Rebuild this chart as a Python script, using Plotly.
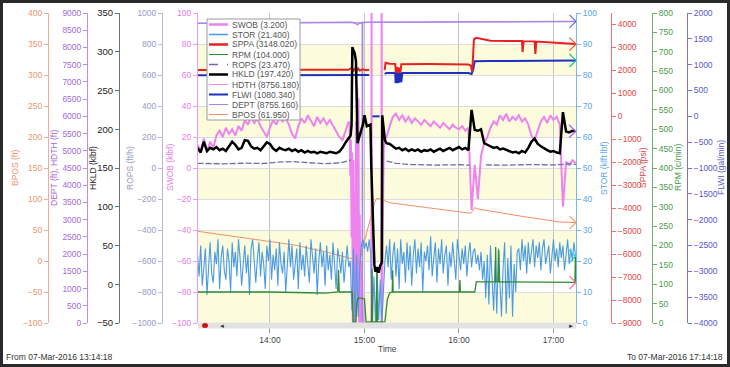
import plotly.graph_objects as go
import pandas as pd

W, H = 730, 367
BASE = pd.Timestamp("2016-03-07 13:00:00")
T_START = pd.Timestamp("2016-03-07 13:14:18")
T_END = pd.Timestamp("2016-03-07 17:14:18")
STEP = 2       # sample interval (minutes) of SWOB / HKLD logs
STOR_STEP = 1  # sample interval (minutes) of the torque log

# ---------------- data (times in minutes after 13:00) ----------------
swob_seg1_start = 14
swob_seg1 = [15, 11, 19, 10, 17, 13, 21, 24, 20, 26,
             22, 25, 21, 27, 24, 31, 28, 33, 29, 32,
             27, 23, 20, 26, 31, 28, 33, 30, 32, 28,
             22, 19, 27, 32, 29, 34, 30, 27, 33, 29,
             32, 28, 31, 27, 24, 20, 18, 24, 30]
swob_conn_t = [110.6, 111, 111.4, 111.8, 112.2, 112.6, 113, 113.4, 113.8, 114.2,
               114.6, 115, 115.4, 115.8, 116.2, 116.6, 117, 117.6, 118.2, 119,
               124.4, 124.5, 124.6, 130.8, 130.9, 131.1, 131.6, 132.2, 132.8]
swob_conn_v = [28, -5, 18, -45, 10, -100, 5, -100, -15, -100,
               30, -90, 52, -70, 45, -100, -30, -100, -60, -100,
               -100, 100, -100, -100, 100, -100, -40, 12, 18]
swob_seg3_start = 134
swob_seg3 = [20, 27, 33, 35, 31, 34, 30, 33, 29, 32,
             30, 28, 31, 29, 27, 30, 28, 26, 29, 27,
             25, 28, 26, 25, 27, 24, 26, -27, 2, -20,
             8, 16, 20, 26, 30, 28, 34, 31, 35, 30,
             33, 31, 34, 30, 32, 28, 21, 18, 24, 30,
             33, 29, 34, 31, 33, 28, -25, 4, 2, 5,
             3.2]

hkld_seg1_start = 14
hkld_seg1 = [176, 170, 184, 172, 176, 174, 177, 173, 175, 172,
             178, 184, 180, 174, 176, 186, 185, 178, 175, 176,
             173, 178, 183, 181, 175, 172, 176, 174, 173, 175,
             172, 174, 171, 173, 170, 172, 170, 171, 169, 171,
             170, 169, 171, 170, 169, 171, 176, 183, 188]
hkld_conn_t = [111.2, 111.8, 112.3, 113, 113.8, 114.6, 115.1, 115.6, 117, 119,
               120, 121.5, 123.8, 124.3, 126.3, 127, 128, 129, 130, 131,
               131.3, 132, 133]
hkld_conn_v = [192, 205, 306, 302, 298, 288, 215, 182, 192, 206,
               218, 204, 206, 154, 25, 16, 22, 15, 24, 28,
               218, 200, 186]
hkld_seg3_start = 134
hkld_seg3 = [182, 181, 178, 175, 176, 173, 175, 172, 174, 172,
             174, 171, 173, 172, 174, 171, 173, 175, 172, 174,
             176, 173, 175, 177, 174, 176, 173, 225, 199, 198,
             200, 182, 180, 178, 176, 177, 174, 175, 173, 172,
             170, 171, 169, 172, 170, 176, 184, 188, 181, 178,
             175, 173, 171, 172, 170, 169, 222, 197, 196, 198,
             197.42]

stor_start = 14
stor_vals = [22, 15, 25, 12, 18, 24, 9, 20, 26, 16,
             13, 23, 19, 27, 11, 21, 25, 17, 14, 24,
             20, 10, 26, 18, 23, 15, 27, 21, 12, 19,
             25, 16, 22, 9, 24, 27, 18, 13, 21, 26,
             15, 23, 19, 11, 25, 20, 27, 14, 22, 17,
             24, 12, 26, 19, 16, 23, 10, 21, 27, 18,
             25, 14, 20, 24, 11, 26, 17, 22, 15, 25,
             19, 13, 27, 21, 16, 24, 9, 20, 26, 18,
             23, 12, 25, 17, 22, 14, 26, 19, 11, 24,
             21, 16, 23, 13, 20, 25, 18,
             20, 4, 24, 0, 22, 2, 18, 25, 27, 24,
             26, 23, 27, 22, 0, 15, 0, 18, 1, 14,
             0, 10, 20,
             25, 18, 27, 14, 22, 26, 15, 24, 11, 27,
             19, 23, 13, 26, 17, 25, 12, 22, 27, 16,
             24, 18, 26, 10, 23, 20, 25, 17, 28, 15,
             21, 26, 13, 24, 19, 27, 16, 22, 25, 12,
             23, 18, 26, 20, 14, 27, 21, 17, 24, 19,
             25, 15, 22, 26, 18, 23,
             24, 19, 22, 17, 23, 14, 20, 8,
             22, 6, 25, 12, 4, 20, 3, 24, 15, 2,
             18, 26, 3, 21, 8, 25, 2, 19, 10, 23,
             24, 17, 27, 20, 25, 16, 26, 19, 23, 27,
             18, 25, 21, 26, 17, 24, 27, 19, 22, 25,
             16, 23, 27, 20, 24, 18, 26, 21, 25, 17,
             23, 27, 19, 24, 20, 26, 21.4]

rpm_t = [14, 60, 85, 95, 100, 102, 103, 103.5, 104, 108,
         112.3, 112.8, 114.6, 115.2, 116, 118, 120, 121, 124.5, 124.8,
         125.1, 127.6, 127.9, 128.2, 133, 134.5, 136, 137.6, 137.9, 138.2,
         160, 180.3, 180.6, 180.9, 190, 191, 203, 203.3, 203.6, 205,
         205.3, 205.6, 253.6, 253.9, 254.3]
rpm_v = [80, 80, 78, 77, 79, 80, 80, 137, 80, 80,
         80, 3, 3, 55, 64, 64, 62, 3, 3, 140,
         3, 3, 142, 3, 3, 60, 78, 80, 136, 80,
         80, 80, 111, 80, 80, 106, 106, 196, 106, 106,
         188, 106, 105, 170, 104]

flwi_t = [14, 60, 100, 112, 118, 123, 123.1, 125, 129.6, 129.7,
          132.8, 134, 139.5, 139.8, 140.4, 141, 141.6, 142.2, 142.8, 143.4,
          144, 186, 188, 189, 190, 200, 254.3]
flwi_v = [795, 800, 802, 800, 805, 800, None, 0, 0, None,
          820, 839, 840, 640, 850, 640, 840, 650, 845, 660,
          839, 839, 820, 900, 1065, 1071, 1080.34]

sppa_t = [14, 60, 100, 110, 112, 113, 114, 115, 116, 117,
          119, 121, 123, 123.1, 132.8, 133.4, 136, 139.5, 140, 140.7,
          141.4, 142.1, 142.8, 143.4, 160, 186, 187.6, 188.4, 189.5, 191,
          200, 220, 220.4, 221, 228, 228.5, 229.1, 240, 254.3]
sppa_v = [2020, 2015, 2025, 2030, 2120, 1960, 2100, 1980, 2080, 1990,
          2050, 2010, 2030, None, 2010, 2330, 2290, 2285, 1890, 2150,
          1890, 2120, 1900, 2270, 2275, 2260, 2200, 1930, 3350, 3420,
          3290, 3280, 2800, 3275, 3265, 2715, 3255, 3220, 3148.02]

rops_t = [14, 30, 45, 55, 65, 75, 85, 95, 105, 109,
          111.5, 111.6, 134, 140, 150, 165, 180, 187, 187.1, 197,
          210, 225, 240, 250, 254.3]
rops_v = [30, 27, 31, 29, 38, 41, 34, 28, 33, 45,
          52, None, 45, 30, 22, 19, 21, 18, None, 20,
          18, 22, 20, 26, 23.47]

dept_t = [14, 60, 112, 114, 115.5, 117, 118.6, 118.7, 118.8, 121, 180, 254.3]
dept_v = [8700, 8713, 8728, 8705, 8665, 8705, 8726, 0, 8726, 8729, 8742, 8755.16]

hdth_t = [14, 60, 112, 180, 254.3]
hdth_v = [8701, 8714, 8729, 8743, 8756.18]

bpos_t = [14, 45, 75, 95, 105, 110, 113, 115.5, 117, 119,
          121.5, 124, 126.5, 127.7, 130, 133, 136, 160, 187.5, 188.5,
          190, 192, 220, 244, 254.3]
bpos_v = [48, 37, 26, 15, 9, 6, 3, -2, 0, 22,
          48, 72, 95, 101, 100, 97, 94, 86, 77, 80,
          86, 84, 72, 63, 61.95]


def grid(start, vals, step=STEP):
    return [start + step * i for i in range(len(vals))]


def to_time(mins):
    return [BASE + pd.Timedelta(minutes=m) for m in mins]


swob_t = grid(swob_seg1_start, swob_seg1) + swob_conn_t + grid(swob_seg3_start, swob_seg3)
swob_v = swob_seg1 + swob_conn_v + swob_seg3
hkld_t = grid(hkld_seg1_start, hkld_seg1) + hkld_conn_t + grid(hkld_seg3_start, hkld_seg3)
hkld_v = hkld_seg1 + hkld_conn_v + hkld_seg3
stor_t = grid(stor_start, stor_vals, STOR_STEP)

# ---------------- geometry helpers ----------------
def PX(x):
    return x / W


def PY(y):
    return 1 - y / H


FONT = "Liberation Sans, Arial, sans-serif"
X0, X1, YT, YB = 198, 576, 13, 323

C = dict(
    SWOB=('#ee82ee', '#f09af0', '#e57ce5'),
    STOR=('#4a9be3', '#7ab6ec', '#5aa5e6'),
    SPPA=('#e8201e', '#ee7070', '#e04848'),
    RPM=('#2e8b2e', '#72ad72', '#4c9a4c'),
    ROPS=('#6e6ea6', '#b8b8d6', '#9a9ac4'),
    HKLD=('#000000', '#707070', '#222222'),
    HDTH=('#f08cf0', None, None),
    FLWI=('#1f30c0', '#7474da', '#5858cc'),
    DEPT=('#a985e6', '#b88ee8', '#a46ada'),
    BPOS=('#f0906a', '#f2ae90', '#ea9672'),
)

fig = go.Figure()


def add_line(t, v, axis, name, width, dash='solid'):
    fig.add_trace(go.Scatter(x=to_time(t), y=v, yaxis=axis, mode='lines', name=name,
                             line=dict(color=C[name][0], width=width, dash=dash),
                             connectgaps=False, hoverinfo='skip', showlegend=False))


add_line(swob_t, swob_v, 'y', 'SWOB', 2)
add_line(bpos_t, bpos_v, 'y2', 'BPOS', 1)
add_line(hdth_t, hdth_v, 'y3', 'HDTH', 1)
add_line(dept_t, dept_v, 'y3', 'DEPT', 1.5)
add_line(stor_t, stor_vals, 'y4', 'STOR', 1.1)
add_line(rops_t, rops_v, 'y5', 'ROPS', 1.3, dash='6px,2px')
add_line(flwi_t, flwi_v, 'y6', 'FLWI', 2)
add_line(sppa_t, sppa_v, 'y7', 'SPPA', 2)
add_line(rpm_t, rpm_v, 'y8', 'RPM', 1.3)
add_line(hkld_t, hkld_v, 'y9', 'HKLD', 2.5)

# cursor crosses at the last sample
for t, v, axis, col in [(dept_t, dept_v, 'y3', '#b48ae8'), (sppa_t, sppa_v, 'y7', '#f0a090'),
                        (flwi_t, flwi_v, 'y6', '#6a78d8'), (hkld_t, hkld_v, 'y9', '#777777'),
                        (bpos_t, bpos_v, 'y2', '#f4a888'), (stor_t, stor_vals, 'y4', '#8cc0ee'),
                        (rpm_t, rpm_v, 'y8', '#6cc06c')]:
    fig.add_trace(go.Scatter(x=to_time([t[-1]]), y=[v[-1]], yaxis=axis, mode='markers',
                             marker=dict(symbol='x-thin-open', size=13, line=dict(color=col, width=1.2)),
                             hoverinfo='skip', showlegend=False))


def yax(name, rng, dtick, pos=None, side='left', anchor='free', overlay=True, fs=8.5):
    _, axc, tc = C[name]
    d = dict(range=rng, dtick=dtick, showline=True, linecolor=axc, linewidth=1,
             ticks='outside', ticklen=4, tickwidth=1, tickcolor=axc,
             tickfont=dict(size=fs, color=tc, family=FONT), automargin=False,
             showgrid=False, zeroline=False, side=side, fixedrange=True)
    if overlay:
        d['overlaying'] = 'y'
    d['anchor'] = anchor
    if pos is not None:
        d['position'] = pos
    return d


main_y = yax('SWOB', [-100, 100], 20, side='left', anchor='x', overlay=False)
main_y.update(domain=[PY(YB), PY(YT)], showgrid=True, gridcolor='#dcdcdc', gridwidth=1)

fig.update_layout(
    width=W, height=H, autosize=False, margin=dict(l=0, r=0, t=0, b=0, pad=0),
    paper_bgcolor='white', plot_bgcolor='white',
    font=dict(family=FONT, size=8.5, color='#333'),
    showlegend=False,
    xaxis=dict(domain=[PX(X0), PX(X1)], range=[T_START, T_END], type='date',
               tickformat='%H:%M', dtick=3600000, ticks='outside', ticklen=9,
               tickcolor='#999', tickfont=dict(size=8.5, color='#444'), automargin=False,
               showgrid=True, gridcolor='#c4c4c4', zeroline=False, showline=False,
               fixedrange=True),
    yaxis=main_y,
    yaxis2=yax('BPOS', [-100, 400], 50, pos=PX(48)),
    yaxis3=yax('DEPT', [0, 9000], 500, pos=PX(87)),
    yaxis4=yax('STOR', [0, 100], 10, side='right', anchor='x'),
    yaxis5=yax('ROPS', [-1000, 1000], 200, pos=PX(162)),
    yaxis6=yax('FLWI', [-4000, 2000], 500, pos=PX(687), side='right'),
    yaxis7=yax('SPPA', [-9000, 4500], 1000, pos=PX(611), side='right'),
    yaxis8=yax('RPM', [0, 800], 50, pos=PX(652), side='right'),
    yaxis9=yax('HKLD', [-50, 350], 50, pos=PX(119), fs=9.5),
)

shapes = []
# alternating background bands
for k in range(5):
    y0 = -100 + 40 * k
    shapes.append(dict(type='rect', xref='x domain', yref='y', x0=0, x1=1, y0=y0, y1=y0 + 20,
                       fillcolor='#fcfcdc', line=dict(width=0), layer='below'))
# scrollbar under the plot
shapes.append(dict(type='rect', xref='paper', yref='paper', x0=PX(X0), x1=PX(X1),
                   y0=PY(328.5), y1=PY(322.5), fillcolor='#e2e2e2', line=dict(width=0), layer='above'))
shapes.append(dict(type='circle', xref='paper', yref='paper', x0=PX(202), x1=PX(208),
                   y0=PY(328), y1=PY(323), fillcolor='#c81414', line=dict(width=0), layer='above'))
# outer frame
shapes.append(dict(type='rect', xref='paper', yref='paper', x0=0, x1=1, y0=0, y1=1,
                   line=dict(color='#2a2a2a', width=6), fillcolor='rgba(0,0,0,0)', layer='above'))

annotations = []
# legend box
LX0, LX1, LY0, LY1 = 207, 300, 19, 120
shapes.append(dict(type='rect', xref='paper', yref='paper', x0=PX(LX0), x1=PX(LX1),
                   y0=PY(LY1), y1=PY(LY0), fillcolor='white', line=dict(color='#9a9a9a', width=1),
                   layer='above'))
legend_items = [
    ('SWOB', swob_v[-1], 2.5, 'solid'), ('STOR', stor_vals[-1], 1.5, 'solid'),
    ('SPPA', sppa_v[-1], 2.5, 'solid'), ('RPM', rpm_v[-1], 1, 'solid'),
    ('ROPS', rops_v[-1], 1.3, 'dash'), ('HKLD', hkld_v[-1], 2.5, 'solid'),
    ('HDTH', hdth_v[-1], 1, 'solid'), ('FLWI', flwi_v[-1], 2, 'solid'),
    ('DEPT', dept_v[-1], 1, 'solid'), ('BPOS', bpos_v[-1], 1, 'solid'),
]
for i, (nm, val, w, dsh) in enumerate(legend_items):
    yy = 24.5 + 10 * i
    shapes.append(dict(type='line', xref='paper', yref='paper', x0=PX(209), x1=PX(228),
                       y0=PY(yy), y1=PY(yy), line=dict(color=C[nm][0], width=w, dash=dsh),
                       layer='above'))
    annotations.append(dict(xref='paper', yref='paper', x=PX(230), y=PY(yy), xanchor='left',
                            yanchor='middle', text=f"{nm} ({val:.3f})", showarrow=False,
                            font=dict(size=8.5, color='#555', family=FONT)))

# axis titles
titles = [('BPOS (ft)', 15, 'BPOS'), ('DEPT (ft), HDTH (ft)', 54, 'DEPT'), ('HKLD (klbf)', 93, 'HKLD'),
          ('ROPS (ft/h)', 130, 'ROPS'), ('SWOB (klbf)', 170, 'SWOB'), ('STOR (klft lbf)', 604, 'STOR'),
          ('SPPA (psi)', 643, 'SPPA'), ('RPM (c/min)', 678, 'RPM'), ('FLWI (gal/min)', 721, 'FLWI')]
for txt, x, nm in titles:
    annotations.append(dict(xref='paper', yref='paper', x=PX(x), y=PY(168), text=txt,
                            textangle=-90, showarrow=False, xanchor='center', yanchor='middle',
                            font=dict(size=8.5, color=C[nm][2], family=FONT)))

annotations += [
    dict(xref='paper', yref='paper', x=PX(222), y=PY(325.5), text='◄', showarrow=False,
         xanchor='center', yanchor='middle', font=dict(size=6, color='#333')),
    dict(xref='paper', yref='paper', x=PX(571), y=PY(325.5), text='►', showarrow=False,
         xanchor='center', yanchor='middle', font=dict(size=6, color='#333')),
    dict(xref='paper', yref='paper', x=PX(387), y=PY(349), text='Time', showarrow=False,
         xanchor='center', yanchor='middle', font=dict(size=8.5, color='#444', family=FONT)),
    dict(xref='paper', yref='paper', x=PX(4), y=PY(357), xanchor='left', yanchor='middle',
         text=f"From {T_START:%d-%b-%Y %H:%M:%S}",
         showarrow=False, font=dict(size=8.5, color='#333', family=FONT)),
    dict(xref='paper', yref='paper', x=PX(725), y=PY(357), xanchor='right', yanchor='middle',
         text=f"To {T_END:%d-%b-%Y %H:%M:%S}",
         showarrow=False, font=dict(size=8.5, color='#333', family=FONT)),
]

fig.update_layout(shapes=shapes, annotations=annotations)
fig.write_html("out.html", config={'displayModeBar': False},
               post_script="document.body.style.margin='0';document.body.style.padding='0';"
                           "document.body.style.overflow='hidden';")
